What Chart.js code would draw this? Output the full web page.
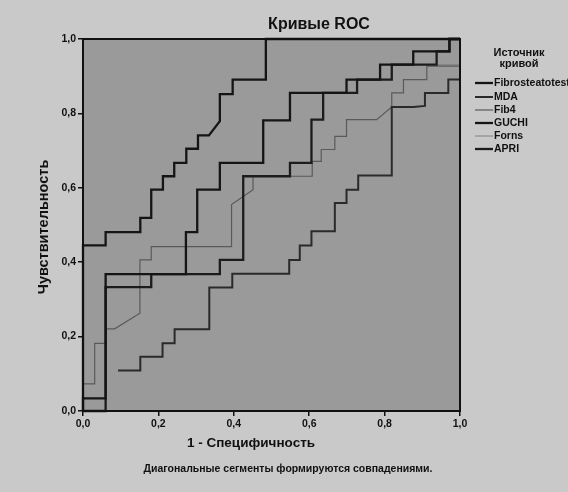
<!DOCTYPE html>
<html>
<head>
<meta charset="utf-8">
<script src="https://cdn.jsdelivr.net/npm/chart.js@4"></script>
<style>
html,body{margin:0;padding:0;background:#c9c9c9;}
#wrap{width:568px;height:492px;}
</style>
</head>
<body>
<div id="wrap"><canvas id="c" width="568" height="492"></canvas></div>
<script>
// Tick values
const axisTicks = [0, 0.2, 0.4, 0.6, 0.8, 1.0];

// Series labels
const seriesNames = ["Fibrosteatotest", "MDA", "Fib4", "GUCHI", "Forns", "APRI"];

// Fibrosteatotest
const fibroX = [0,0,0.06,0.06,0.152,0.152,0.181,0.181,0.212,0.212,0.242,0.242,0.274,0.274,0.305,0.305,0.334,0.363,0.363,0.397,0.397,0.485,0.485,1];
const fibroY = [0,0.445,0.445,0.481,0.481,0.519,0.519,0.595,0.595,0.631,0.631,0.667,0.667,0.705,0.705,0.741,0.741,0.779,0.852,0.852,0.891,0.891,1,1];

// MDA
const mdaX = [0.093,0.152,0.152,0.211,0.211,0.243,0.243,0.335,0.335,0.396,0.396,0.547,0.547,0.575,0.575,0.606,0.606,0.668,0.668,0.699,0.699,0.73,0.73,0.819,0.819,0.876,0.907,0.907,0.969,0.969,1,1];
const mdaY = [0.109,0.109,0.146,0.146,0.182,0.182,0.22,0.22,0.332,0.332,0.369,0.369,0.406,0.406,0.445,0.445,0.483,0.483,0.559,0.559,0.595,0.595,0.633,0.633,0.817,0.817,0.82,0.855,0.855,0.891,0.891,1];

// Fib4
const fib4X = [0,0,0.031,0.031,0.062,0.062,0.084,0.151,0.151,0.181,0.181,0.394,0.394,0.451,0.451,0.608,0.608,0.632,0.632,0.668,0.668,0.699,0.699,0.779,0.819,0.819,0.85,0.85,0.912,0.912,1,1];
const fib4Y = [0,0.073,0.073,0.182,0.182,0.221,0.221,0.263,0.406,0.406,0.442,0.442,0.555,0.595,0.631,0.631,0.671,0.671,0.703,0.703,0.738,0.738,0.783,0.783,0.817,0.855,0.855,0.891,0.891,0.927,0.927,1];

// GUCHI
const guchiX = [0,0,0.06,0.06,0.273,0.273,0.303,0.303,0.363,0.363,0.478,0.478,0.549,0.549,0.699,0.699,0.788,0.788,0.876,0.876,0.972,0.972,1];
const guchiY = [0,0.034,0.034,0.368,0.368,0.481,0.481,0.595,0.595,0.667,0.667,0.781,0.781,0.855,0.855,0.891,0.891,0.931,0.931,0.967,0.967,1,1];

// Forns (mostly hidden under thicker curves)
const fornsX = [0,0.06,0.06,0.181,0.181,0.363,0.363,0.425,0.425,0.549,0.549,0.606,0.606,0.637,0.637,0.727,0.727,0.819,0.819,0.938,0.938,1,1];
const fornsY = [0,0,0.333,0.333,0.368,0.368,0.406,0.406,0.631,0.631,0.667,0.667,0.783,0.783,0.855,0.855,0.891,0.891,0.931,0.931,0.931,0.931,1];

// APRI
const apriX = [0,0.06,0.06,0.181,0.181,0.363,0.363,0.425,0.425,0.549,0.549,0.606,0.606,0.637,0.637,0.727,0.727,0.819,0.819,0.938,0.938,0.972,0.972,1];
const apriY = [0,0,0.333,0.333,0.368,0.368,0.406,0.406,0.631,0.631,0.667,0.667,0.783,0.783,0.855,0.855,0.891,0.891,0.931,0.931,0.967,0.967,1,1];

const seriesX = [fibroX, mdaX, fib4X, guchiX, fornsX, apriX];
const seriesY = [fibroY, mdaY, fib4Y, guchiY, fornsY, apriY];
const seriesColor = ["#151515", "#2a2a2a", "#5a5a5a", "#151515", "#808080", "#1c1c1c"];
const seriesWidth = [2.3, 2.0, 1.2, 2.3, 1.0, 2.3];
const seriesOrder = [1, 2, 5, 1, 6, 1];

function pts(xs, ys){ return xs.map((x,i)=>({x:x, y:ys[i]})); }

const datasets = seriesNames.map((n,i)=>({
  label: n,
  data: pts(seriesX[i], seriesY[i]),
  showLine: true,
  borderColor: seriesColor[i],
  borderWidth: seriesWidth[i],
  pointRadius: 0,
  fill: false,
  tension: 0,
  clip: 4,
  order: seriesOrder[i]
}));

const FONT = "'Liberation Sans', Arial, sans-serif";

const decor = {
  id: 'decor',
  beforeDraw(chart){
    const ctx = chart.ctx, a = chart.chartArea;
    ctx.save();
    ctx.fillStyle = '#c9c9c9';
    ctx.fillRect(0,0,chart.width,chart.height);
    ctx.fillStyle = '#9a9a9a';
    ctx.fillRect(a.left, a.top, a.right-a.left, a.bottom-a.top);
    ctx.restore();
  },
  afterDraw(chart){
    const ctx = chart.ctx, a = chart.chartArea;
    ctx.save();
    ctx.strokeStyle = '#111';
    ctx.lineWidth = 2;
    ctx.strokeRect(a.left, a.top, a.right-a.left, a.bottom-a.top);
    ctx.fillStyle = '#111';
    ctx.textAlign = 'center';
    ctx.textBaseline = 'middle';
    // title
    ctx.font = 'bold 16px ' + FONT;
    ctx.fillText('Кривые ROC', 319, 25);
    // x title
    ctx.font = 'bold 13.5px ' + FONT;
    ctx.fillText('1 - Специфичность', 251, 443);
    // footnote
    ctx.font = 'bold 10.5px ' + FONT;
    ctx.fillText('Диагональные сегменты формируются совпадениями.', 288, 469);
    // y title
    ctx.save();
    ctx.translate(44, 227);
    ctx.rotate(-Math.PI/2);
    ctx.font = 'bold 14.5px ' + FONT;
    ctx.fillText('Чувствительность', 0, 0);
    ctx.restore();
    // legend
    ctx.font = 'bold 11px ' + FONT;
    ctx.fillText('Источник', 519, 53);
    ctx.fillText('кривой', 519, 64);
    ctx.textAlign = 'left';
    const ys = [83, 97, 110, 123, 136, 149];
    chart.data.datasets.forEach((d,i)=>{
      ctx.strokeStyle = d.borderColor;
      ctx.lineWidth = d.borderWidth;
      ctx.beginPath();
      ctx.moveTo(475, ys[i]);
      ctx.lineTo(493, ys[i]);
      ctx.stroke();
      ctx.fillStyle = '#111';
      ctx.font = 'bold 10.5px ' + FONT;
      ctx.fillText(d.label, 494, ys[i]);
    });
    ctx.restore();
  }
};

const tickFmt = v => Number(v).toFixed(1).replace('.', ',');

new Chart(document.getElementById('c'), {
  type: 'scatter',
  data: { datasets: datasets },
  plugins: [decor],
  options: {
    responsive: false,
    animation: false,
    layout: { padding: { left: 0, right: 108, top: 39, bottom: 0 } },
    plugins: { legend: { display: false }, title: { display: false }, tooltip: { enabled: false } },
    scales: {
      x: {
        type: 'linear', min: 0, max: 1,
        afterBuildTicks: s => { s.ticks = axisTicks.map(v=>({value:v})); },
        afterFit: s => { s.height = 81; },
        ticks: { callback: tickFmt, color: '#111', font: { family: FONT, size: 10.5, weight: 'bold' }, padding: 2, maxRotation: 0 },
        grid: { drawOnChartArea: false, drawTicks: true, tickLength: 5, color: '#111', lineWidth: 1.5 },
        border: { display: true, color: '#111', width: 2 }
      },
      y: {
        type: 'linear', min: 0, max: 1,
        afterBuildTicks: s => { s.ticks = axisTicks.map(v=>({value:v})); },
        afterFit: s => { s.width = 83; },
        ticks: { callback: tickFmt, color: '#111', font: { family: FONT, size: 10.5, weight: 'bold' }, padding: 2 },
        grid: { drawOnChartArea: false, drawTicks: true, tickLength: 5, color: '#111', lineWidth: 1.5 },
        border: { display: true, color: '#111', width: 2 }
      }
    }
  }
});
</script>
</body>
</html>
